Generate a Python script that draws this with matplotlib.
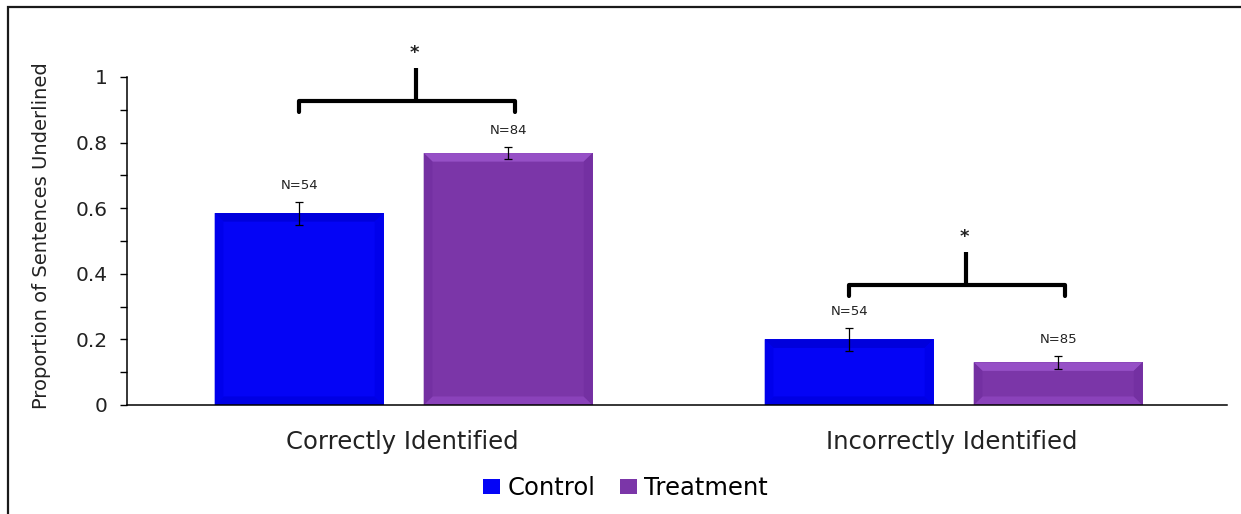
import matplotlib.pyplot as plt
from matplotlib.patches import Rectangle, Polygon
import numpy as np

# ---------------------------------------------------------------- data
categories = ['Correctly Identified', 'Incorrectly Identified']
control = [0.585, 0.20]
treatment = [0.768, 0.13]
control_err = [0.035, 0.036]
treatment_err = [0.018, 0.020]
control_n = ['N=54', 'N=54']
treatment_n = ['N=84', 'N=85']
bracket_y = [0.927, 0.366]     # height of the significance brackets
significance = ['*', '*']

# ---------------------------------------------------------------- style
ctrl_color = '#0404F6'
treat_color = '#7B36A8'
bar_w = 0.307
ctrl_off, treat_off = -0.187, 0.193

plt.rcParams['font.family'] = ['DejaVu Sans']

fig = plt.figure(figsize=(12.41, 5.14), dpi=100)
ax = fig.add_axes([0.1023, 0.2121, 0.8864, 0.6381])

x = np.arange(len(categories))
b1 = ax.bar(x + ctrl_off, control, bar_w, color=ctrl_color, label='Control', zorder=2)
b2 = ax.bar(x + treat_off, treatment, bar_w, color=treat_color, label='Treatment', zorder=2)


def bevel(bars, top, bottom, side):
    # light/dark frame around each bar to give the raised look
    dx, dy = 0.016, 0.026
    for p in bars:
        x0, y0 = p.get_x(), p.get_y()
        x1, y1 = x0 + p.get_width(), y0 + p.get_height()
        faces = [
            ([(x0, y1), (x1, y1), (x1 - dx, y1 - dy), (x0 + dx, y1 - dy)], top),
            ([(x0, y0), (x1, y0), (x1 - dx, y0 + dy), (x0 + dx, y0 + dy)], bottom),
            ([(x0, y0), (x0, y1), (x0 + dx, y1 - dy), (x0 + dx, y0 + dy)], side),
            ([(x1, y0), (x1, y1), (x1 - dx, y1 - dy), (x1 - dx, y0 + dy)], side),
        ]
        for pts, c in faces:
            ax.add_patch(Polygon(pts, closed=True, facecolor=c, edgecolor='none', zorder=2.5))


bevel(b1, '#0000DC', '#0000E4', '#0000EC')
bevel(b2, '#9650C6', '#8A42BA', '#7430A2')

ax.errorbar(x + ctrl_off, control, yerr=control_err, fmt='none', ecolor='black',
            elinewidth=0.9, capsize=3.2, capthick=0.9, zorder=3)
ax.errorbar(x + treat_off, treatment, yerr=treatment_err, fmt='none', ecolor='black',
            elinewidth=0.9, capsize=3.2, capthick=0.9, zorder=3)

# sample size labels above the error bars
for xi, v, e, n in zip(x + ctrl_off, control, control_err, control_n):
    ax.annotate(n, (xi, v + e), xytext=(0, 7), textcoords='offset points',
                ha='center', va='bottom', fontsize=9.5, color='#222222')
for xi, v, e, n in zip(x + treat_off, treatment, treatment_err, treatment_n):
    ax.annotate(n, (xi, v + e), xytext=(0, 7), textcoords='offset points',
                ha='center', va='bottom', fontsize=9.5, color='#222222')

# significance brackets
for xi, yb, s in zip(x, bracket_y, significance):
    xl, xr = xi + ctrl_off, xi + treat_off + 0.012
    xm = xi + 0.025
    ax.plot([xl, xl, xr, xr], [yb - 0.034, yb, yb, yb - 0.034], color='black', lw=3,
            solid_joinstyle='round', solid_capstyle='round', clip_on=False, zorder=4)
    ax.plot([xm, xm], [yb, yb + 0.1], color='black', lw=3, solid_capstyle='butt',
            clip_on=False, zorder=4)
    ax.text(xm - 0.002, yb + 0.1 + 0.047, s, ha='center', va='center', fontsize=13,
            fontweight='bold', color='#222222', clip_on=False, zorder=4)

ax.set_xlim(-0.5, 1.5)
ax.set_ylim(0, 1)
ax.set_xticks(x)
ax.set_xticklabels(categories, fontsize=17.5, color='#222222')
ax.tick_params(axis='x', length=0, pad=18)
ax.set_yticks(np.arange(0, 1.01, 0.2))
ax.set_yticks(np.arange(0.1, 1.0, 0.2), minor=True)
ax.set_yticklabels(['0', '0.2', '0.4', '0.6', '0.8', '1'], fontsize=14.5, color='#222222')
ax.tick_params(axis='y', which='both', length=5, width=1, pad=9)
ax.set_ylabel('Proportion of Sentences Underlined', fontsize=14, color='#222222')
ax.yaxis.set_label_coords(-0.069, 0.515)

for side in ['top', 'right']:
    ax.spines[side].set_visible(False)
for side in ['left', 'bottom']:
    ax.spines[side].set_linewidth(1.1)

fig.legend(handles=[b1, b2], loc='center', bbox_to_anchor=(0.504, 0.051), ncol=2,
           frameon=False, fontsize=17.5, handlelength=0.72, handleheight=0.55,
           handletextpad=0.3, columnspacing=1.0)

# outer frame around the whole chart
fig.patches.append(Rectangle((8 / 1241, -0.1), 1.2, 1 - 7 / 514 + 0.1, transform=fig.transFigure,
                             fill=False, edgecolor='#1a1a1a', lw=1.6, zorder=0))

fig.savefig('out.png', dpi=100)
